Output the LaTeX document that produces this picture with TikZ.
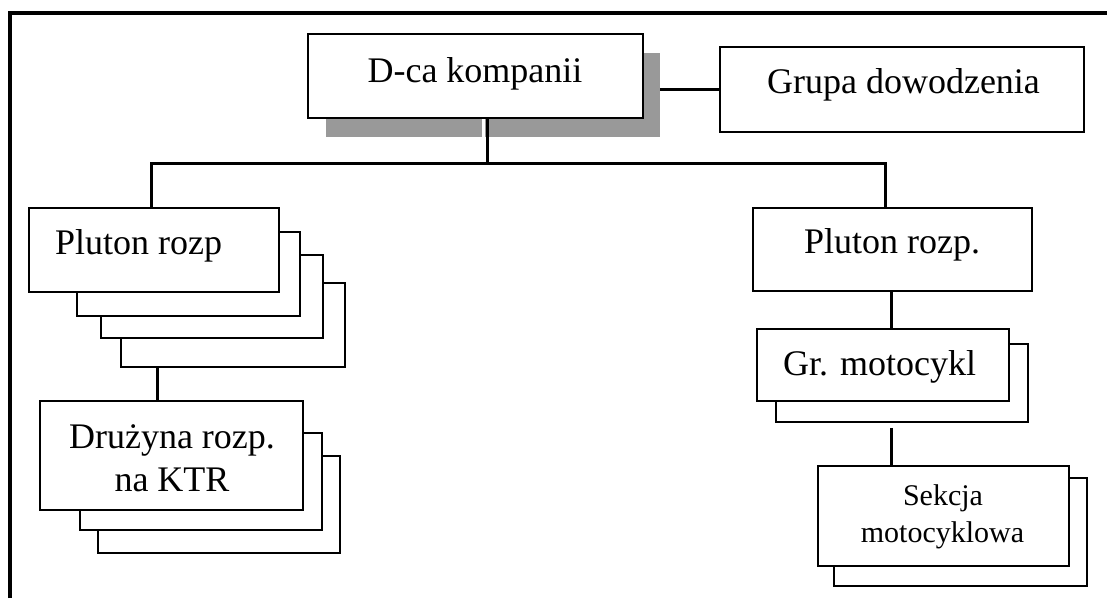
\documentclass[tikz,border=0pt]{standalone}
\usepackage{fontspec}
\setmainfont{Liberation Serif}
\usetikzlibrary{calc}
\begin{document}
\begin{tikzpicture}[x=1pt,y=-1pt,
  frame/.style={line width=3.5pt},
  box/.style={draw, line width=1.8pt, fill=white, inner sep=0pt, rectangle},
  backbox/.style={draw, line width=1.6pt, fill=white},
  shade/.style={fill=black!40, draw=none, inner sep=0pt, rectangle},
  conn/.style={line width=3pt},
  lbl/.style={anchor=base, inner sep=0pt, font=\fontsize{36}{43}\selectfont},
  small/.style={anchor=base, inner sep=0pt, font=\fontsize{30}{37}\selectfont}]
\useasboundingbox (0,0) rectangle (1107,598);
\fill[white] (0,0) rectangle (1107,598);

% outer frame (top and left edges)
\draw[frame] (10,598) -- (10,13) -- (1107,13);

% company commander with drop shadow
\node[shade, minimum width=334pt, minimum height=84pt] (shadow) at (493,95) {};
\draw[white, line width=3pt] (483,118) -- (483,137);
\node[box, minimum width=335pt, minimum height=84pt] (dca) at (475.5,76) {};
\node[lbl] (tdca) at (475,82) {D-ca kompanii};

% command group
\node[box, minimum width=364pt, minimum height=85pt] (grupa) at (902,89.5) {};
\node[lbl] (tgrupa) at (903.5,93) {Grupa dowodzenia};
\draw[conn] (grupa.west -| shadow.east) -- (grupa.west);

% bus line
\coordinate (bus) at (487,163);
\coordinate (busL) at (151,163);
\coordinate (busR) at (885,163);
\draw[conn] (dca.south -| bus) -- (bus);

% left platoon stack
\draw[backbox] (121,283) rectangle (345,367);
\draw[backbox] (101,255) rectangle (323,338);
\draw[backbox] (77,232) rectangle (300,316);
\node[box, minimum width=250pt, minimum height=84pt] (plL) at (154,250) {};
\node[lbl] (tplL) at (138.5,254) {Pluton rozp};

% left squad stack
\draw[backbox] (98,456) rectangle (340,553);
\draw[backbox] (80,433) rectangle (322,530);
\node[box, minimum width=263pt, minimum height=109pt] (druz) at (171.5,455.5) {};
\node[lbl] (tdruz1) at (172,448) {Drużyna rozp.};
\node[lbl] (tdruz2) at (172,491) {na KTR};
\coordinate (lstack) at (157,367);
\draw[conn] (lstack) -- (druz.north -| lstack);

% right platoon
\node[box, minimum width=279pt, minimum height=83pt] (plR) at (892.5,249.5) {};
\node[lbl] (tplR) at (892,253) {Pluton rozp.};

% motorcycle group stack
\draw[backbox] (776,344) rectangle (1028,422);
\node[box, minimum width=252pt, minimum height=72pt] (grm) at (883,365) {};
\node[lbl] (tgrm) at (879.5,375) {Gr. motocykl};

% motorcycle section stack
\draw[backbox] (834,478) rectangle (1087,586);
\node[box, minimum width=251pt, minimum height=100pt] (sek) at (943.5,516) {};
\node[small] (tsek1) at (943,505) {Sekcja};
\node[small] (tsek2) at (942.5,542) {motocyklowa};

% connectors
\draw[conn] (plL.north -| busL) -- (busL) -- (busR) -- (plR.north -| busR);
\coordinate (rline) at (891,0);
\draw[conn] (plR.south -| rline) -- (grm.north -| rline);
\draw[conn] ($(grm.south -| rline)+(0,26)$) -- (sek.north -| rline);
\end{tikzpicture}
\end{document}
